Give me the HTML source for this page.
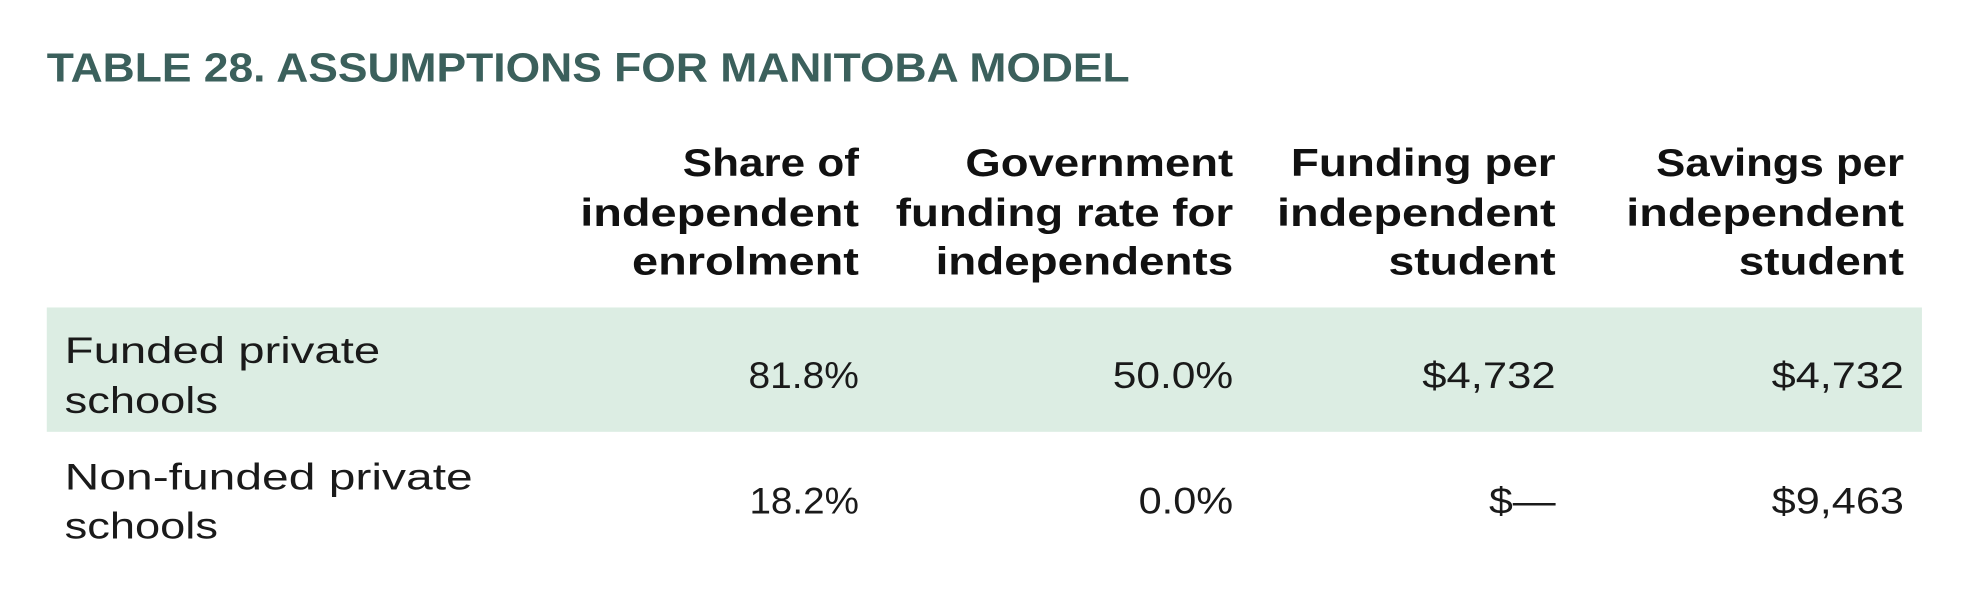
<!DOCTYPE html>
<html><head><meta charset="utf-8"><style>
html,body{margin:0;padding:0;background:#fff;}
svg{display:block;}
text{font-family:"Liberation Sans",sans-serif;}
.h{font-size:39px;font-weight:bold;fill:#111;}
.b{font-size:37px;fill:#1a1a1a;}
</style></head><body>
<svg width="1978" height="602" viewBox="0 0 1978 602" xmlns="http://www.w3.org/2000/svg">
<rect width="1978" height="602" fill="#fff"/>
<g transform="scale(0.9953,0.995)">
<text x="47" y="82" font-size="41" font-weight="bold" fill="#3b605c" textLength="1088" lengthAdjust="spacingAndGlyphs">TABLE 28. ASSUMPTIONS FOR MANITOBA MODEL</text>
<rect x="47" y="309" width="1884" height="125" fill="#dcede3"/>
<g class="h" text-anchor="end">
<text class="h" x="863" y="177" textLength="177" lengthAdjust="spacingAndGlyphs">Share of</text>
<text class="h" x="863" y="227" textLength="280" lengthAdjust="spacingAndGlyphs">independent</text>
<text class="h" x="863" y="276" textLength="228" lengthAdjust="spacingAndGlyphs">enrolment</text>
<text class="h" x="1239" y="177" textLength="269" lengthAdjust="spacingAndGlyphs">Government</text>
<text class="h" x="1239" y="227" textLength="339" lengthAdjust="spacingAndGlyphs">funding rate for</text>
<text class="h" x="1239" y="276" textLength="299" lengthAdjust="spacingAndGlyphs">independents</text>
<text class="h" x="1563" y="177" textLength="266" lengthAdjust="spacingAndGlyphs">Funding per</text>
<text class="h" x="1563" y="227" textLength="280" lengthAdjust="spacingAndGlyphs">independent</text>
<text class="h" x="1563" y="276" textLength="168" lengthAdjust="spacingAndGlyphs">student</text>
<text class="h" x="1913" y="177" textLength="249" lengthAdjust="spacingAndGlyphs">Savings per</text>
<text class="h" x="1913" y="227" textLength="279" lengthAdjust="spacingAndGlyphs">independent</text>
<text class="h" x="1913" y="276" textLength="166" lengthAdjust="spacingAndGlyphs">student</text>
</g>
<text class="b" x="65" y="365" textLength="317" lengthAdjust="spacingAndGlyphs">Funded private</text>
<text class="b" x="65" y="415" textLength="154" lengthAdjust="spacingAndGlyphs">schools</text>
<text class="b" x="65" y="492" textLength="410" lengthAdjust="spacingAndGlyphs">Non-funded private</text>
<text class="b" x="65" y="541" textLength="154" lengthAdjust="spacingAndGlyphs">schools</text>
<g text-anchor="end">
<text class="b" x="863" y="390" textLength="111" lengthAdjust="spacingAndGlyphs">81.8%</text>
<text class="b" x="1239" y="390" textLength="121" lengthAdjust="spacingAndGlyphs">50.0%</text>
<text class="b" x="1563" y="390" textLength="134" lengthAdjust="spacingAndGlyphs">$4,732</text>
<text class="b" x="1913" y="390" textLength="133" lengthAdjust="spacingAndGlyphs">$4,732</text>
<text class="b" x="863" y="516" textLength="110" lengthAdjust="spacingAndGlyphs">18.2%</text>
<text class="b" x="1239" y="516" textLength="95" lengthAdjust="spacingAndGlyphs">0.0%</text>
<text class="b" x="1563" y="516" textLength="67" lengthAdjust="spacingAndGlyphs">$—</text>
<text class="b" x="1913" y="516" textLength="133" lengthAdjust="spacingAndGlyphs">$9,463</text>
</g>
</g>
</svg>
</body></html>
